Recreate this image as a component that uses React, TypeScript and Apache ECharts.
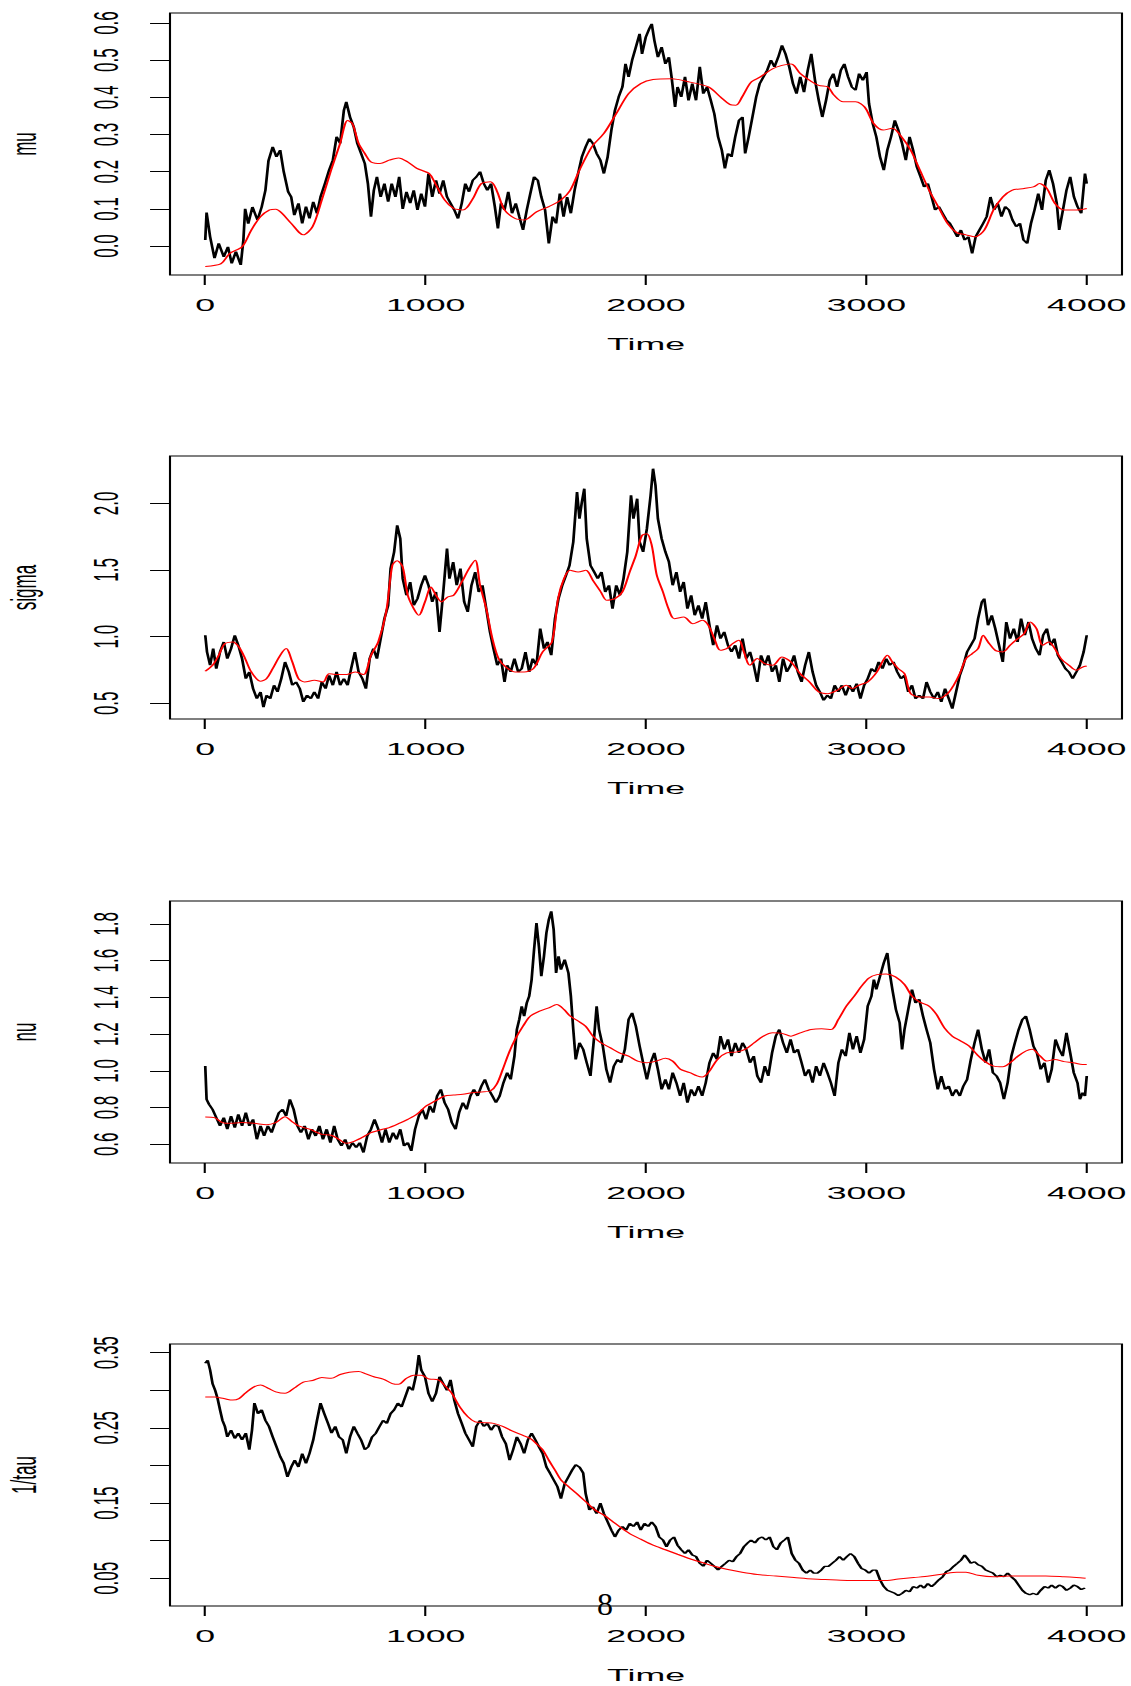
import React, { useEffect, useRef } from "react";
import * as echarts from "echarts";

// The reference is an R plot stretched horizontally; we draw in a narrow
// frame and stretch it with CSS so text and strokes match that look.
const STRETCH = 2.1;
const PAGE_W = 1131;
const PAGE_H = 1686;
const INNER_W = PAGE_W / STRETCH;

const timeTicks = [0, 1000, 2000, 3000, 4000];
const muTicks = [0, 0.1, 0.2, 0.3, 0.4, 0.5, 0.6];
const sigmaTicks = [0.5, 1.0, 1.5, 2.0];
const nuTicks = [0.6, 0.8, 1.0, 1.2, 1.4, 1.6, 1.8];
const tauTicks = [0.05, 0.1, 0.15, 0.2, 0.25, 0.3, 0.35];
const tauLabels = [0.05, 0.15, 0.25, 0.35];

// ---- mu ----
const muObs: [number, number][] = [
  [0,0.016],[6,0.09],[22,0.025],[42,-0.033],[61,0.007],[84,-0.029],[103,-0.002],[120,-0.047],[139,-0.015],[161,-0.051],[173,0.016],[181,0.10],[195,0.06],[214,0.105],[237,0.07],[256,0.105],[273,0.15],[287,0.23],[306,0.267],[323,0.24],[340,0.258],[356,0.20],[376,0.146],[390,0.132],[404,0.083],[423,0.115],[440,0.061],[457,0.106],[473,0.074],[490,0.119],[507,0.088],[523,0.132],[543,0.168],[562,0.204],[579,0.231],[596,0.294],[612,0.276],[629,0.365],[640,0.388],[657,0.347],[674,0.32],[690,0.276],[707,0.249],[724,0.222],[738,0.168],[752,0.079],[765,0.15],[779,0.186],[796,0.132],[813,0.168],[830,0.119],[846,0.168],[863,0.132],[880,0.186],[896,0.10],[913,0.146],[930,0.115],[946,0.15],[963,0.097],[980,0.141],[997,0.106],[1013,0.195],[1030,0.132],[1047,0.177],[1063,0.141],[1080,0.177],[1097,0.132],[1113,0.115],[1130,0.097],[1147,0.074],[1164,0.115],[1180,0.168],[1197,0.146],[1214,0.177],[1230,0.186],[1247,0.20],[1264,0.168],[1280,0.15],[1297,0.168],[1314,0.106],[1328,0.047],[1342,0.115],[1358,0.097],[1375,0.146],[1392,0.088],[1409,0.115],[1425,0.079],[1442,0.043],[1459,0.097],[1475,0.141],[1492,0.186],[1509,0.177],[1525,0.132],[1542,0.097],[1559,0.007],[1576,0.079],[1592,0.061],[1609,0.141],[1626,0.079],[1642,0.132],[1659,0.088],[1676,0.15],[1692,0.195],[1709,0.24],[1726,0.267],[1743,0.289],[1759,0.276],[1776,0.249],[1793,0.231],[1809,0.195],[1826,0.24],[1843,0.312],[1859,0.365],[1876,0.401],[1893,0.428],[1907,0.49],[1921,0.455],[1937,0.50],[1954,0.535],[1971,0.571],[1982,0.517],[1999,0.562],[2015,0.585],[2026,0.598],[2038,0.553],[2054,0.508],[2071,0.535],[2088,0.49],[2104,0.508],[2116,0.455],[2132,0.374],[2143,0.428],[2160,0.401],[2177,0.455],[2193,0.392],[2210,0.437],[2227,0.392],[2244,0.482],[2260,0.41],[2277,0.428],[2294,0.392],[2310,0.356],[2327,0.294],[2344,0.258],[2358,0.209],[2372,0.249],[2388,0.24],[2405,0.294],[2422,0.338],[2438,0.347],[2450,0.249],[2466,0.294],[2483,0.347],[2500,0.401],[2516,0.437],[2533,0.455],[2550,0.473],[2567,0.50],[2583,0.482],[2600,0.508],[2617,0.54],[2633,0.517],[2650,0.482],[2667,0.437],[2683,0.41],[2700,0.455],[2717,0.414],[2734,0.473],[2750,0.517],[2767,0.446],[2784,0.392],[2800,0.347],[2817,0.392],[2834,0.446],[2850,0.464],[2867,0.428],[2884,0.473],[2900,0.49],[2917,0.455],[2934,0.428],[2951,0.419],[2967,0.464],[2984,0.446],[3001,0.468],[3012,0.383],[3029,0.329],[3045,0.294],[3062,0.24],[3079,0.204],[3095,0.258],[3112,0.294],[3129,0.338],[3145,0.312],[3162,0.276],[3179,0.231],[3196,0.294],[3212,0.258],[3229,0.213],[3246,0.186],[3262,0.159],[3279,0.168],[3296,0.132],[3312,0.097],[3329,0.106],[3346,0.088],[3363,0.07],[3379,0.061],[3396,0.043],[3413,0.025],[3429,0.043],[3446,0.016],[3463,0.025],[3480,-0.02],[3496,0.025],[3513,0.043],[3530,0.061],[3546,0.079],[3563,0.132],[3580,0.097],[3596,0.115],[3613,0.079],[3630,0.106],[3647,0.097],[3663,0.07],[3680,0.052],[3697,0.061],[3713,0.016],[3730,0.007],[3747,0.061],[3763,0.097],[3780,0.141],[3797,0.097],[3814,0.177],[3830,0.204],[3847,0.168],[3864,0.115],[3875,0.043],[3892,0.097],[3908,0.15],[3925,0.186],[3942,0.132],[3958,0.106],[3975,0.088],[3992,0.195],[4000,0.168]
];
const muFit: [number, number][] = [
  [0,-0.055],[70,-0.048],[111,-0.02],[167,-0.002],[209,0.043],[251,0.079],[292,0.097],[320,0.099],[348,0.088],[390,0.061],[445,0.03],[487,0.052],[529,0.124],[571,0.204],[612,0.276],[646,0.338],[668,0.329],[696,0.276],[724,0.249],[752,0.226],[793,0.222],[835,0.231],[877,0.237],[919,0.226],[960,0.209],[1016,0.195],[1044,0.168],[1086,0.124],[1127,0.101],[1169,0.097],[1211,0.124],[1253,0.168],[1294,0.173],[1322,0.15],[1358,0.097],[1406,0.074],[1447,0.07],[1503,0.092],[1559,0.106],[1614,0.124],[1656,0.15],[1698,0.204],[1754,0.267],[1809,0.303],[1865,0.356],[1921,0.41],[1976,0.437],[2032,0.448],[2116,0.45],[2199,0.441],[2283,0.428],[2338,0.401],[2380,0.381],[2408,0.379],[2436,0.401],[2477,0.441],[2519,0.455],[2575,0.477],[2617,0.486],[2658,0.49],[2700,0.464],[2742,0.446],[2784,0.432],[2825,0.428],[2853,0.406],[2895,0.388],[2951,0.388],[2992,0.374],[3034,0.329],[3076,0.312],[3118,0.317],[3159,0.294],[3201,0.258],[3243,0.204],[3285,0.15],[3326,0.106],[3368,0.061],[3410,0.036],[3452,0.03],[3493,0.025],[3535,0.043],[3577,0.097],[3619,0.132],[3660,0.15],[3716,0.155],[3758,0.159],[3786,0.168],[3819,0.155],[3855,0.115],[3897,0.097],[3953,0.097],[4000,0.101]
];

// ---- sigma ----
const sigmaObs: [number, number][] = [
  [0,1.01],[8,0.885],[22,0.785],[36,0.91],[50,0.76],[67,0.885],[84,0.96],[100,0.835],[117,0.91],[134,1.01],[150,0.935],[167,0.835],[184,0.685],[200,0.735],[217,0.61],[234,0.535],[251,0.585],[264,0.47],[278,0.56],[295,0.535],[312,0.635],[328,0.585],[345,0.685],[362,0.81],[379,0.735],[395,0.635],[412,0.66],[429,0.61],[445,0.51],[462,0.56],[479,0.535],[495,0.585],[512,0.535],[529,0.66],[546,0.61],[562,0.71],[579,0.635],[596,0.735],[612,0.635],[629,0.685],[646,0.635],[662,0.76],[679,0.885],[696,0.735],[713,0.685],[729,0.61],[746,0.835],[763,0.91],[779,0.835],[796,0.985],[813,1.135],[830,1.235],[841,1.51],[857,1.635],[871,1.835],[885,1.735],[896,1.435],[913,1.31],[930,1.41],[946,1.235],[963,1.285],[980,1.385],[997,1.46],[1013,1.385],[1030,1.26],[1047,1.335],[1063,1.035],[1080,1.335],[1097,1.66],[1108,1.435],[1125,1.56],[1141,1.385],[1158,1.51],[1175,1.26],[1191,1.185],[1208,1.385],[1225,1.485],[1241,1.335],[1258,1.385],[1275,1.21],[1292,1.035],[1308,0.91],[1325,0.785],[1342,0.835],[1358,0.66],[1370,0.785],[1386,0.735],[1403,0.835],[1420,0.735],[1436,0.76],[1453,0.885],[1470,0.735],[1486,0.835],[1503,0.785],[1520,1.06],[1537,0.91],[1553,0.96],[1570,0.86],[1587,1.135],[1603,1.285],[1620,1.385],[1637,1.46],[1653,1.535],[1670,1.71],[1687,2.085],[1698,1.885],[1709,2.01],[1720,2.11],[1731,1.735],[1748,1.535],[1765,1.485],[1781,1.435],[1798,1.485],[1815,1.335],[1832,1.385],[1848,1.21],[1865,1.385],[1882,1.31],[1898,1.435],[1915,1.635],[1932,2.06],[1943,1.885],[1960,2.035],[1971,1.71],[1987,1.635],[2004,1.81],[2021,2.06],[2032,2.26],[2043,2.135],[2054,1.885],[2071,1.735],[2088,1.635],[2104,1.56],[2121,1.385],[2138,1.485],[2155,1.335],[2171,1.41],[2188,1.21],[2205,1.31],[2221,1.16],[2238,1.235],[2255,1.135],[2271,1.26],[2288,1.085],[2305,0.935],[2322,1.085],[2338,0.985],[2355,1.035],[2372,0.935],[2388,0.885],[2405,0.935],[2422,0.835],[2438,0.985],[2455,0.835],[2472,0.885],[2489,0.785],[2505,0.66],[2522,0.86],[2539,0.785],[2555,0.86],[2572,0.735],[2589,0.785],[2605,0.66],[2622,0.835],[2639,0.735],[2656,0.785],[2672,0.86],[2689,0.735],[2706,0.66],[2722,0.785],[2739,0.885],[2756,0.735],[2772,0.635],[2789,0.585],[2806,0.522],[2823,0.56],[2839,0.535],[2856,0.635],[2873,0.585],[2889,0.635],[2906,0.56],[2923,0.635],[2939,0.585],[2956,0.647],[2973,0.535],[2990,0.635],[3006,0.685],[3023,0.76],[3040,0.735],[3056,0.81],[3073,0.76],[3090,0.835],[3106,0.785],[3123,0.81],[3140,0.735],[3157,0.685],[3173,0.71],[3190,0.585],[3207,0.635],[3223,0.535],[3240,0.56],[3257,0.535],[3273,0.66],[3290,0.585],[3307,0.535],[3324,0.585],[3340,0.51],[3357,0.61],[3374,0.535],[3390,0.46],[3407,0.585],[3424,0.71],[3440,0.785],[3457,0.885],[3474,0.935],[3491,0.985],[3507,1.135],[3524,1.26],[3535,1.285],[3552,1.085],[3569,1.16],[3585,1.06],[3602,0.935],[3619,0.81],[3635,1.11],[3652,0.985],[3669,1.06],[3686,0.96],[3702,1.135],[3719,1.01],[3736,1.11],[3752,0.985],[3769,0.91],[3786,0.86],[3802,1.01],[3819,1.06],[3836,0.935],[3853,0.985],[3869,0.86],[3886,0.81],[3903,0.76],[3919,0.735],[3936,0.685],[3953,0.735],[3969,0.785],[3986,0.885],[4000,1.01]
];
const sigmaFit: [number, number][] = [
  [0,0.74],[33,0.785],[61,0.86],[89,0.948],[125,0.96],[153,0.922],[181,0.835],[209,0.735],[251,0.665],[278,0.685],[306,0.76],[340,0.86],[367,0.91],[395,0.81],[423,0.685],[451,0.66],[495,0.672],[534,0.66],[562,0.722],[598,0.715],[640,0.715],[682,0.735],[718,0.715],[752,0.86],[785,0.96],[821,1.185],[849,1.535],[871,1.57],[896,1.522],[919,1.31],[946,1.21],[969,1.16],[997,1.26],[1024,1.372],[1047,1.31],[1072,1.26],[1100,1.297],[1127,1.31],[1164,1.41],[1197,1.51],[1225,1.572],[1247,1.385],[1275,1.21],[1303,0.985],[1331,0.835],[1364,0.772],[1406,0.735],[1447,0.735],[1489,0.76],[1531,0.885],[1573,0.96],[1601,1.285],[1628,1.435],[1656,1.497],[1692,1.485],[1726,1.497],[1759,1.422],[1795,1.335],[1823,1.272],[1859,1.285],[1893,1.335],[1926,1.485],[1954,1.61],[1982,1.76],[2004,1.772],[2026,1.685],[2049,1.46],[2077,1.335],[2102,1.21],[2129,1.135],[2171,1.147],[2213,1.097],[2255,1.122],[2283,1.085],[2310,0.985],[2338,0.897],[2366,0.91],[2394,0.948],[2422,0.972],[2444,0.885],[2472,0.785],[2505,0.835],[2539,0.797],[2575,0.785],[2617,0.847],[2658,0.81],[2700,0.722],[2742,0.66],[2784,0.585],[2825,0.572],[2867,0.597],[2909,0.635],[2937,0.61],[2965,0.635],[3006,0.66],[3048,0.735],[3076,0.822],[3095,0.86],[3118,0.81],[3145,0.76],[3173,0.722],[3201,0.572],[3243,0.547],[3285,0.547],[3326,0.535],[3368,0.572],[3396,0.635],[3424,0.722],[3452,0.835],[3480,0.872],[3507,0.91],[3530,1.01],[3552,0.96],[3585,0.897],[3619,0.885],[3652,0.935],[3688,0.985],[3716,1.022],[3744,1.11],[3772,1.06],[3800,0.935],[3827,0.96],[3855,0.91],[3883,0.835],[3919,0.785],[3953,0.747],[3981,0.772],[4000,0.78]
];

// ---- nu ----
const nuObs: [number, number][] = [
  [0,1.026],[6,0.845],[17,0.818],[33,0.79],[50,0.745],[67,0.70],[84,0.745],[100,0.682],[117,0.754],[134,0.691],[150,0.763],[167,0.70],[184,0.772],[200,0.70],[217,0.736],[234,0.627],[251,0.70],[267,0.645],[284,0.70],[301,0.663],[317,0.718],[334,0.772],[351,0.79],[367,0.754],[384,0.845],[401,0.79],[418,0.70],[434,0.663],[451,0.70],[468,0.627],[484,0.682],[501,0.645],[518,0.70],[534,0.627],[551,0.682],[568,0.609],[585,0.70],[601,0.627],[618,0.591],[635,0.627],[651,0.573],[668,0.609],[685,0.582],[701,0.609],[718,0.555],[735,0.645],[752,0.682],[768,0.736],[785,0.682],[802,0.609],[818,0.682],[835,0.609],[852,0.663],[868,0.627],[885,0.682],[902,0.591],[919,0.609],[935,0.564],[952,0.682],[969,0.754],[985,0.79],[1002,0.736],[1019,0.809],[1035,0.772],[1052,0.863],[1069,0.899],[1086,0.827],[1102,0.79],[1119,0.718],[1136,0.682],[1152,0.772],[1169,0.827],[1186,0.79],[1203,0.863],[1219,0.899],[1236,0.863],[1253,0.917],[1269,0.953],[1286,0.899],[1303,0.863],[1319,0.827],[1336,0.863],[1353,0.935],[1370,0.99],[1386,0.953],[1403,1.08],[1414,1.225],[1425,1.28],[1436,1.352],[1447,1.298],[1459,1.37],[1470,1.407],[1481,1.497],[1492,1.66],[1503,1.805],[1514,1.678],[1525,1.515],[1537,1.624],[1548,1.751],[1559,1.824],[1570,1.869],[1581,1.769],[1592,1.533],[1603,1.624],[1614,1.551],[1631,1.606],[1648,1.533],[1659,1.407],[1670,1.225],[1681,1.062],[1698,1.153],[1715,1.117],[1731,1.044],[1748,0.972],[1765,1.189],[1776,1.352],[1787,1.225],[1804,1.135],[1820,1.008],[1837,0.935],[1854,1.026],[1871,1.062],[1887,1.044],[1904,1.117],[1921,1.28],[1937,1.316],[1954,1.243],[1971,1.135],[1987,1.044],[2004,0.953],[2021,1.044],[2038,1.098],[2054,1.008],[2071,0.899],[2088,0.953],[2104,0.899],[2121,0.99],[2138,0.935],[2155,0.863],[2171,0.935],[2188,0.827],[2205,0.899],[2221,0.863],[2238,0.917],[2255,0.863],[2271,0.935],[2288,1.044],[2305,1.098],[2322,1.062],[2338,1.189],[2355,1.117],[2372,1.171],[2388,1.08],[2405,1.153],[2422,1.098],[2438,1.153],[2455,1.117],[2472,1.044],[2489,1.08],[2505,0.972],[2522,0.935],[2539,1.026],[2555,0.972],[2572,1.098],[2589,1.189],[2605,1.225],[2622,1.153],[2639,1.098],[2656,1.171],[2672,1.098],[2689,1.117],[2706,1.044],[2722,0.972],[2739,1.008],[2756,0.935],[2772,1.026],[2789,0.972],[2806,1.044],[2823,0.99],[2839,0.935],[2856,0.863],[2873,1.044],[2889,1.117],[2906,1.08],[2923,1.207],[2939,1.117],[2956,1.189],[2973,1.098],[2990,1.171],[3006,1.352],[3023,1.407],[3034,1.497],[3045,1.443],[3062,1.515],[3079,1.588],[3095,1.642],[3106,1.533],[3118,1.443],[3134,1.334],[3151,1.262],[3162,1.117],[3173,1.225],[3190,1.334],[3207,1.443],[3223,1.37],[3240,1.389],[3257,1.298],[3273,1.225],[3290,1.153],[3307,1.008],[3324,0.899],[3340,0.972],[3357,0.899],[3374,0.917],[3390,0.863],[3407,0.899],[3424,0.863],[3440,0.917],[3457,0.953],[3474,1.062],[3491,1.153],[3507,1.225],[3524,1.117],[3541,1.044],[3557,1.117],[3574,0.99],[3591,0.972],[3607,0.935],[3624,0.845],[3641,0.935],[3658,1.08],[3674,1.153],[3691,1.225],[3708,1.28],[3724,1.298],[3741,1.225],[3758,1.135],[3774,1.098],[3791,1.008],[3808,1.044],[3825,0.935],[3841,1.008],[3858,1.171],[3875,1.117],[3891,1.08],[3908,1.207],[3925,1.098],[3941,0.99],[3958,0.935],[3969,0.845],[3981,0.881],[3992,0.863],[4000,0.972]
];
const nuFit: [number, number][] = [
  [0,0.749],[42,0.745],[78,0.718],[111,0.714],[167,0.718],[223,0.714],[278,0.707],[320,0.718],[362,0.75],[390,0.727],[423,0.70],[473,0.682],[529,0.654],[571,0.649],[607,0.627],[640,0.605],[668,0.613],[710,0.636],[752,0.663],[793,0.678],[835,0.691],[877,0.712],[919,0.736],[960,0.763],[1002,0.808],[1044,0.836],[1086,0.863],[1127,0.868],[1169,0.872],[1211,0.881],[1253,0.885],[1294,0.89],[1322,0.926],[1350,1.008],[1378,1.098],[1406,1.171],[1442,1.243],[1475,1.298],[1517,1.325],[1559,1.343],[1595,1.361],[1628,1.334],[1656,1.298],[1692,1.271],[1726,1.243],[1759,1.189],[1795,1.153],[1837,1.126],[1879,1.098],[1921,1.08],[1962,1.053],[2004,1.044],[2046,1.053],[2088,1.068],[2121,1.053],[2157,1.008],[2199,0.99],[2232,0.972],[2255,0.966],[2283,0.99],[2324,1.062],[2366,1.098],[2408,1.102],[2450,1.117],[2491,1.153],[2533,1.189],[2575,1.207],[2617,1.204],[2658,1.189],[2700,1.207],[2750,1.225],[2797,1.229],[2839,1.225],[2873,1.28],[2909,1.352],[2945,1.407],[2978,1.461],[3012,1.506],[3048,1.524],[3090,1.528],[3132,1.512],[3173,1.47],[3207,1.407],[3243,1.374],[3285,1.352],[3318,1.307],[3354,1.234],[3390,1.189],[3429,1.162],[3466,1.135],[3502,1.089],[3535,1.053],[3577,1.026],[3619,1.022],[3652,1.044],[3688,1.08],[3724,1.108],[3752,1.117],[3786,1.084],[3819,1.053],[3855,1.062],[3897,1.05],[3939,1.044],[3981,1.035],[4000,1.035]
];

// ---- 1/tau ----
const tauObs: [number, number][] = [
  [0,0.336],[11,0.34],[22,0.327],[33,0.309],[45,0.30],[56,0.289],[67,0.274],[78,0.26],[89,0.252],[100,0.238],[117,0.247],[134,0.236],[150,0.243],[167,0.234],[184,0.243],[200,0.221],[212,0.247],[223,0.283],[239,0.269],[256,0.274],[273,0.26],[289,0.252],[306,0.238],[323,0.225],[340,0.212],[356,0.203],[373,0.185],[390,0.198],[406,0.207],[423,0.198],[440,0.216],[457,0.203],[473,0.216],[490,0.234],[507,0.26],[523,0.283],[540,0.269],[557,0.256],[573,0.243],[590,0.252],[607,0.238],[624,0.234],[640,0.216],[657,0.238],[674,0.252],[690,0.243],[707,0.234],[724,0.221],[740,0.225],[757,0.238],[774,0.243],[791,0.252],[807,0.26],[824,0.256],[841,0.269],[857,0.274],[874,0.283],[891,0.278],[907,0.291],[924,0.305],[941,0.30],[958,0.322],[969,0.347],[980,0.327],[997,0.318],[1013,0.296],[1030,0.285],[1047,0.296],[1063,0.318],[1080,0.309],[1097,0.30],[1113,0.314],[1130,0.287],[1147,0.269],[1164,0.256],[1180,0.243],[1197,0.234],[1214,0.225],[1230,0.252],[1247,0.26],[1264,0.252],[1280,0.256],[1297,0.247],[1314,0.254],[1331,0.252],[1347,0.238],[1364,0.229],[1381,0.207],[1397,0.221],[1414,0.238],[1431,0.229],[1447,0.216],[1464,0.234],[1481,0.243],[1498,0.234],[1514,0.225],[1531,0.216],[1548,0.198],[1564,0.19],[1581,0.181],[1598,0.172],[1614,0.156],[1631,0.176],[1648,0.185],[1665,0.194],[1681,0.201],[1698,0.198],[1715,0.19],[1726,0.163],[1743,0.141],[1759,0.145],[1776,0.136],[1793,0.15],[1809,0.136],[1826,0.125],[1843,0.114],[1859,0.105],[1876,0.114],[1893,0.119],[1910,0.114],[1926,0.123],[1943,0.119],[1960,0.125],[1976,0.114],[1993,0.123],[2010,0.119],[2026,0.125],[2043,0.119],[2060,0.105],[2077,0.101],[2093,0.092],[2110,0.101],[2127,0.105],[2143,0.094],[2160,0.088],[2177,0.083],[2193,0.088],[2210,0.081],[2227,0.079],[2244,0.07],[2260,0.066],[2277,0.074],[2294,0.07],[2310,0.066],[2327,0.061],[2344,0.066],[2361,0.07],[2377,0.074],[2394,0.072],[2411,0.079],[2427,0.083],[2444,0.092],[2461,0.097],[2477,0.101],[2494,0.097],[2511,0.103],[2527,0.105],[2544,0.101],[2561,0.105],[2578,0.092],[2594,0.088],[2611,0.097],[2628,0.101],[2644,0.105],[2661,0.083],[2678,0.074],[2694,0.07],[2711,0.061],[2728,0.057],[2745,0.061],[2761,0.057],[2778,0.057],[2795,0.061],[2811,0.066],[2828,0.066],[2845,0.07],[2862,0.074],[2878,0.079],[2895,0.074],[2912,0.079],[2928,0.083],[2945,0.079],[2962,0.07],[2978,0.063],[2995,0.061],[3012,0.057],[3029,0.061],[3045,0.061],[3062,0.048],[3079,0.039],[3095,0.034],[3112,0.032],[3129,0.03],[3145,0.027],[3162,0.03],[3179,0.034],[3196,0.032],[3212,0.039],[3229,0.037],[3246,0.041],[3262,0.037],[3279,0.043],[3296,0.039],[3312,0.043],[3329,0.048],[3346,0.052],[3363,0.059],[3379,0.061],[3396,0.066],[3413,0.07],[3429,0.074],[3446,0.081],[3457,0.077],[3474,0.07],[3491,0.072],[3507,0.068],[3524,0.066],[3541,0.061],[3557,0.059],[3574,0.057],[3591,0.052],[3607,0.054],[3624,0.052],[3641,0.057],[3658,0.052],[3674,0.048],[3691,0.041],[3708,0.034],[3724,0.03],[3741,0.028],[3758,0.03],[3774,0.028],[3791,0.034],[3808,0.039],[3825,0.037],[3841,0.041],[3858,0.037],[3875,0.041],[3891,0.039],[3908,0.034],[3925,0.037],[3941,0.041],[3958,0.039],[3975,0.035],[3992,0.037]
];
const tauFit: [number, number][] = [
  [0,0.291],[42,0.291],[84,0.289],[125,0.287],[153,0.289],[181,0.296],[217,0.304],[251,0.307],[284,0.303],[320,0.298],[362,0.296],[404,0.303],[445,0.311],[487,0.313],[529,0.317],[571,0.316],[612,0.321],[654,0.324],[696,0.325],[729,0.322],[765,0.318],[807,0.315],[849,0.309],[877,0.308],[913,0.316],[946,0.32],[980,0.32],[1016,0.315],[1058,0.314],[1091,0.305],[1119,0.296],[1155,0.278],[1191,0.265],[1225,0.258],[1267,0.257],[1308,0.256],[1350,0.252],[1392,0.246],[1434,0.241],[1475,0.236],[1503,0.229],[1531,0.221],[1559,0.207],[1587,0.194],[1614,0.181],[1648,0.172],[1684,0.163],[1726,0.152],[1768,0.141],[1809,0.134],[1851,0.125],[1893,0.116],[1935,0.108],[1976,0.102],[2032,0.094],[2088,0.088],[2143,0.082],[2199,0.076],[2255,0.071],[2310,0.066],[2366,0.062],[2436,0.058],[2505,0.055],[2589,0.053],[2672,0.051],[2756,0.049],[2839,0.048],[2923,0.047],[3006,0.047],[3076,0.047],[3145,0.049],[3215,0.051],[3285,0.053],[3354,0.056],[3410,0.058],[3452,0.058],[3507,0.054],[3577,0.052],[3647,0.053],[3730,0.053],[3814,0.053],[3897,0.052],[3953,0.051],[3995,0.05]
];

const FONT = "'Liberation Sans', Arial, Helvetica, sans-serif";

const panels = [
  { name: "mu", obs: muObs, fit: muFit, min: -0.078, max: 0.627, ticks: muTicks, labels: muTicks, digits: 1, top: 13, height: 262 },
  { name: "sigma", obs: sigmaObs, fit: sigmaFit, min: 0.382, max: 2.355, ticks: sigmaTicks, labels: sigmaTicks, digits: 1, top: 456, height: 263 },
  { name: "nu", obs: nuObs, fit: nuFit, min: 0.498, max: 1.925, ticks: nuTicks, labels: nuTicks, digits: 1, top: 901, height: 262 },
  { name: "1/tau", obs: tauObs, fit: tauFit, min: 0.0132, max: 0.3616, ticks: tauTicks, labels: tauLabels, digits: 2, top: 1344, height: 262 },
];

export default function App() {
  const ref = useRef<HTMLDivElement>(null);
  useEffect(() => {
    if (!ref.current) return;
    const chart = echarts.init(ref.current, null, { renderer: "svg" });
    const boxLeft = 170 / STRETCH;
    const boxWidth = (1122 - 170) / STRETCH;
    const textStyle = { color: "#000", fontFamily: FONT, fontSize: 17 };
    chart.setOption({
      animation: false,
      backgroundColor: "#fff",
      grid: panels.map((p) => ({
        left: boxLeft,
        width: boxWidth,
        top: p.top,
        height: p.height,
        containLabel: false,
        outerBoundsMode: "none",
        show: true,
        borderColor: "#000",
        borderWidth: 1,
        backgroundColor: "transparent",
      })),
      xAxis: panels.map((p, i) => ({
        type: "value",
        gridIndex: i,
        min: -160,
        max: 4160,
        axisLine: { show: false, onZero: false },
        splitLine: { show: false },
        axisTick: { show: true, length: 10, customValues: timeTicks, lineStyle: { color: "#000", width: 1 } },
        axisLabel: { customValues: timeTicks, margin: 22, ...textStyle, formatter: (v: number) => String(v) },
        name: "Time",
        nameLocation: "middle",
        nameGap: 61,
        nameTextStyle: { ...textStyle },
      })),
      yAxis: panels.map((p, i) => ({
        type: "value",
        gridIndex: i,
        min: p.min,
        max: p.max,
        axisLine: { show: false, onZero: false },
        splitLine: { show: false },
        axisTick: { show: true, length: 9.5, customValues: p.ticks, lineStyle: { color: "#000", width: 1 } },
        axisLabel: {
          customValues: p.labels,
          rotate: 90,
          margin: 22,
          ...textStyle,
          formatter: (v: number) => v.toFixed(p.digits),
        },
        name: p.name,
        nameLocation: "middle",
        nameGap: 61,
        nameTextStyle: { ...textStyle },
      })),
      series: panels.flatMap((p, i) => [
        {
          type: "line",
          name: p.name + " path",
          xAxisIndex: i,
          yAxisIndex: i,
          data: p.obs,
          symbol: "none",
          silent: true,
          lineStyle: { color: "#000", width: 1.3 },
          z: 2,
        },
        {
          type: "line",
          name: p.name + " smooth",
          xAxisIndex: i,
          yAxisIndex: i,
          data: p.fit,
          symbol: "none",
          silent: true,
          smooth: 0.3,
          lineStyle: { color: "#ff0000", width: 1 },
          z: 3,
        },
      ]),
      graphic: [
        {
          type: "text",
          x: 605 / STRETCH,
          y: 1604,
          scaleX: 1 / STRETCH,
          z: 100,
          style: {
            text: "8",
            fontSize: 32,
            fontFamily: "'Liberation Serif', 'Times New Roman', serif",
            fill: "#000",
            align: "center",
            verticalAlign: "middle",
          },
        },
      ],
    });
    return () => chart.dispose();
  }, []);

  return (
    <div
      style={{
        position: "absolute",
        left: 0,
        top: 0,
        width: PAGE_W,
        height: PAGE_H,
        overflow: "hidden",
        background: "#fff",
      }}
    >
      <div
        ref={ref}
        style={{
          width: INNER_W,
          height: PAGE_H,
          transform: `scaleX(${STRETCH})`,
          transformOrigin: "0 0",
        }}
      />
    </div>
  );
}
